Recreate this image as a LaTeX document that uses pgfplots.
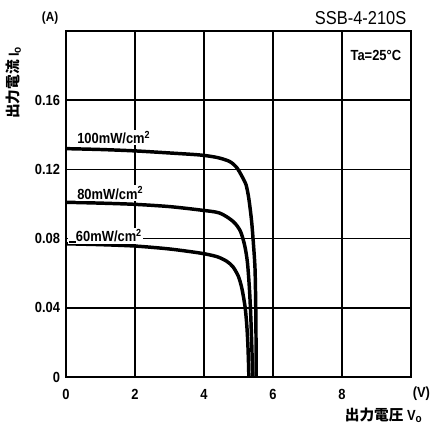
\documentclass[border=0pt]{standalone}
\usepackage{fontspec}
\setmainfont{Liberation Sans}[FakeStretch=0.88]
\newfontfamily\jp{Noto Sans CJK JP Bold}
\usepackage{pgfplots}
\pgfplotsset{compat=1.18}
\newcommand{\sub}[1]{\raisebox{-1.5pt}{\fontsize{8.5}{9}\selectfont #1}}

\begin{document}
\begin{tikzpicture}
\useasboundingbox (-49.5pt,-34.5pt) rectangle (276pt,282.75pt);
\begin{axis}[
    at={(0,0)}, anchor=south west,
    scale only axis,
    width=258.75pt, height=259.5pt,
    xmin=0, xmax=10, ymin=0, ymax=0.2,
    xtick={0,2,...,8}, ytick={0,0.04,...,0.16},
    yticklabels={0,0.04,0.08,0.12,0.16},
    major tick length=0pt,
    grid=major,
    grid style={black, line width=1.1pt},
    axis line style={black, line width=1.4pt},
    tick label style={font=\bfseries\fontsize{11}{13}\selectfont},
    /pgf/number format/assume math mode=true,
    xticklabel style={yshift=-6pt},
    yticklabel style={xshift=-1pt},
    clip=false,
]
\addplot[black, line width=2.6pt, smooth, tension=0.45] coordinates {
 (0,0.1320) (1,0.1315) (2,0.1307) (3,0.1295) (3.9,0.1283) (4.4,0.1268)
 (4.75,0.1245) (4.95,0.1210) (5.1,0.1160) (5.22,0.1110) (5.3,0.1030)
 (5.38,0.0900) (5.44,0.0750) (5.48,0.0620) (5.50,0.0400) (5.51,0.0150) (5.51,0)};
\addplot[black, line width=2.6pt, smooth, tension=0.45] coordinates {
 (0,0.1010) (1,0.1005) (2,0.0998) (3,0.0985) (3.9,0.0965) (4.45,0.0948)
 (4.84,0.0900) (5.05,0.0845) (5.18,0.0760) (5.26,0.0660) (5.32,0.0500)
 (5.36,0.0330) (5.39,0.0150) (5.41,0)};
\addplot[black, line width=2.6pt, smooth, tension=0.45] coordinates {
 (0,0.0770) (1,0.0765) (2,0.0757) (3,0.0740) (3.9,0.0716) (4.37,0.0696)
 (4.65,0.0670) (4.84,0.0637) (5.0,0.0580) (5.1,0.0510) (5.19,0.0406)
 (5.24,0.0300) (5.27,0.0195) (5.29,0.0080) (5.30,0)};

\node[anchor=west, fill=white, inner sep=1pt, font=\bfseries\fontsize{11}{13}\selectfont]
  at (axis cs:0.28,0.1385) {100mW/cm\textsuperscript{2}};
\node[anchor=west, fill=white, inner sep=1pt, font=\bfseries\fontsize{11}{13}\selectfont]
  at (axis cs:0.28,0.1064) {80mW/cm\textsuperscript{2}};
\node[anchor=west, fill=white, inner sep=1pt, font=\bfseries\fontsize{11}{13}\selectfont]
  at (axis cs:0.05,0.0815) {\rule[-0.5pt]{5pt}{0.9pt}60mW/cm\textsuperscript{2}};
\node[anchor=east, font=\bfseries\fontsize{11}{13}\selectfont]
  at (axis cs:9.85,0.186) {Ta=25\textdegree C};
\node[anchor=east, font=\fontsize{14}{16}\selectfont]
  at (axis cs:10,0.2075) {SSB-4-210S};
\node[font=\bfseries\fontsize{10}{12}\selectfont]
  at (axis cs:-0.46,0.2075) {(A)};
\node[font=\bfseries\fontsize{11}{13}\selectfont]
  at (axis cs:10.3,-0.0095) {(V)};
\node[anchor=east, font=\bfseries\fontsize{11}{13}\selectfont]
  at (axis cs:10.45,-0.0220) {{\jp 出力電圧}\ V\sub{o}};
\node[rotate=90, font=\bfseries\fontsize{11}{13}\selectfont]
  at (axis cs:-1.52,0.170) {{\jp 出力電流}\ I\sub{o}};
\end{axis}
\end{tikzpicture}
\end{document}
